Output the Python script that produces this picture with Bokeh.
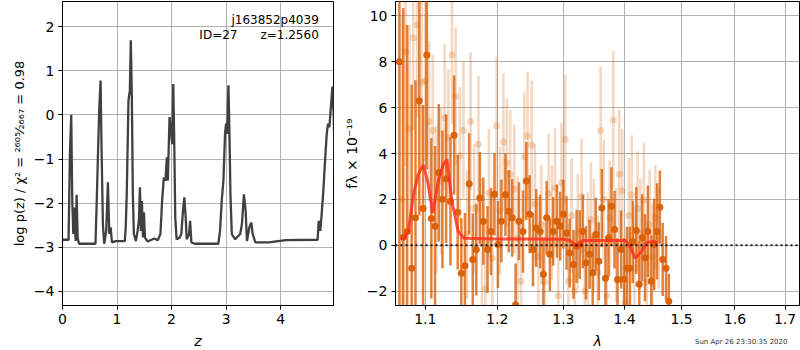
from bokeh.plotting import figure
from bokeh.layouts import row
from bokeh.models import Range1d, FixedTicker, Label, Span, PrintfTickFormatter
from bokeh.embed import file_html
from bokeh.resources import INLINE

# ---------------- left panel: log p(z) ----------------
z_grid = [0.0, 0.111, 0.136, 0.160, 0.179, 0.198, 0.216, 0.241, 0.259, 0.278, 0.302,
          0.605, 0.630, 0.654, 0.673, 0.698, 0.716, 0.741, 0.765, 0.802, 0.833, 0.858,
          0.883, 0.907, 0.975, 1.142, 1.160, 1.179, 1.210, 1.235, 1.253, 1.272, 1.290,
          1.309, 1.346, 1.377, 1.401, 1.420, 1.438, 1.457, 1.475, 1.494, 1.512, 1.562,
          1.685, 1.747, 1.796, 1.827, 1.858, 1.889, 1.914, 1.932, 1.963, 1.988, 2.012,
          2.031, 2.049, 2.068, 2.093, 2.148, 2.179, 2.210, 2.235, 2.259, 2.278, 2.321,
          2.340, 2.364, 2.426, 2.858, 2.889, 2.920, 2.951, 2.981, 3.000, 3.019, 3.043,
          3.062, 3.080, 3.105, 3.167, 3.259, 3.290, 3.327, 3.358, 3.383, 3.426, 3.463,
          3.488, 3.537, 3.784, 4.093, 4.679, 4.698, 4.728, 4.753, 4.784, 4.815, 4.846,
          4.870, 4.895, 4.926, 4.951, 4.975, 4.994, 5.012]
log_pz = [-2.83, -2.83, -0.89, 0.00, -1.95, -2.70, -2.10, -2.86, -1.81, -2.78, -2.92,
          -2.92, -1.87, -0.73, 0.10, 0.78, -0.73, -2.48, -2.92, -2.63, -1.53, -2.70,
          -2.55, -2.89, -2.86, -2.86, -2.55, -1.76, 0.33, 0.55, 1.69, 0.40, -1.80,
          -2.70, -2.86, -2.63, -2.40, -1.64, -2.63, -1.95, -2.78, -2.21, -2.78, -2.87,
          -2.80, -2.84, -2.70, -1.95, -1.42, -1.49, -0.96, -1.49, -0.05, -0.36, -0.66,
          0.70, -0.58, -2.33, -2.82, -2.78, -2.70, -2.17, -1.87, -2.33, -2.82, -2.70,
          -2.40, -2.89, -2.92, -2.92, -2.63, -1.95, -1.49, -0.43, -0.20, -0.43, 0.67,
          -0.43, -1.80, -2.70, -2.82, -2.70, -2.48, -1.80, -2.17, -2.86, -2.55, -2.44,
          -2.70, -2.89, -2.89, -2.84, -2.83, -2.40, -2.63, -2.25, -1.72, -1.04, -0.43,
          -0.20, -0.28, 0.25, 0.64, -0.05, -1.34, -2.33]
z_ticks = [0, 1, 2, 3, 4]
logp_ticks = [-4, -3, -2, -1, 0, 1, 2]
root_name = "j163852p4039"
obj_id = "ID=27"
z_best = "z=1.2560"
ylabel_left = "log p(z) / χ² = ²⁶⁰⁵⁄₂₆₆₇ = 0.98"

# ---------------- right panel: spectrum ----------------
wave_a = [1.066, 1.071, 1.076, 1.082, 1.087, 1.092, 1.097, 1.102, 1.108, 1.113,
          1.118, 1.123, 1.128, 1.134, 1.139, 1.144, 1.149, 1.154, 1.160, 1.165,
          1.170, 1.175, 1.180, 1.186, 1.191, 1.196, 1.201, 1.206, 1.212, 1.217,
          1.222, 1.227, 1.232, 1.238, 1.243, 1.248, 1.253, 1.258, 1.264, 1.269,
          1.274, 1.279, 1.284, 1.290, 1.295, 1.300, 1.305, 1.310, 1.316, 1.321,
          1.326, 1.331, 1.336, 1.342, 1.347, 1.352, 1.357, 1.362, 1.368, 1.373,
          1.378, 1.383, 1.388, 1.394, 1.399, 1.404, 1.409, 1.414, 1.420, 1.425,
          1.430, 1.435, 1.440, 1.446, 1.451, 1.456, 1.461, 1.466, 1.472, 1.477]
flux_a = [8.0, 0.35, 0.6, -1.0, 1.2, 6.3, 1.6, 8.3, 1.17, 0.83,
          3.16, 2.0, 2.9, 1.92, 4.8, 1.44, -1.22, -0.9, 2.68, -0.62,
          -0.19, 2.06, 1.05, -0.19, 0.6, 2.22, 0.03, 1.05, 2.2, 1.48,
          1.2, -2.6, 1.05, 0.6, 2.8, 1.35, -0.19, 0.75, 0.6, -1.27,
          1.2, -0.4, 0.6, 1.05, 0.83, 1.35, 0.53, -0.34, -0.84, -0.05,
          0.03, 0.6, -0.77, -0.4, -1.2, 0.47, -0.7, 1.62, -1.44, 0.32,
          1.7, 0.68, -1.5, -0.19, -1.49, -1.0, -1.0, 0.15, 0.64, -1.7,
          0.32, -0.55, 0.6, -1.57, 0.03, 0.6, 1.66, -0.62, -1.0, -2.45]
err_a = [11.0, 10.0, 9.0, 8.0, 6.0, 5.0, 4.5, 5.0, 3.5, 3.5,
         3.0, 3.0, 2.8, 2.8, 2.6, 2.5, 2.4, 2.3, 2.2, 2.0,
         2.0, 2.0, 1.9, 1.9, 1.9, 1.8, 1.9, 1.8, 1.8, 1.8,
         1.7, 1.8, 1.7, 1.8, 1.7, 1.7, 1.6, 1.7, 1.6, 1.6,
         1.6, 1.6, 1.5, 1.6, 1.5, 1.5, 1.6, 1.5, 1.5, 1.6,
         1.5, 1.6, 1.6, 1.5, 1.6, 1.6, 1.7, 1.7, 1.6, 1.7,
         1.7, 1.7, 1.8, 1.7, 1.8, 1.8, 1.8, 1.8, 1.9, 1.9,
         1.9, 1.9, 2.0, 2.0, 2.0, 2.1, 1.6, 1.6, 1.4, 1.2]

wave_b = [1.069, 1.074, 1.079, 1.084, 1.089, 1.095, 1.100, 1.105, 1.110, 1.115,
          1.121, 1.126, 1.131, 1.136, 1.141, 1.147, 1.152, 1.157, 1.162, 1.167,
          1.173, 1.178, 1.183, 1.188, 1.193, 1.199, 1.204, 1.209, 1.214, 1.219,
          1.225, 1.230, 1.235, 1.240, 1.245, 1.251, 1.256, 1.261, 1.266, 1.271,
          1.277, 1.282, 1.287, 1.292, 1.297, 1.303, 1.308, 1.313, 1.318, 1.323,
          1.329, 1.334, 1.339, 1.344, 1.349, 1.355, 1.360, 1.365, 1.370, 1.375,
          1.381, 1.386, 1.391, 1.396, 1.401, 1.407, 1.412, 1.417, 1.422, 1.427,
          1.433, 1.438, 1.443, 1.448, 1.453, 1.459]
flux_b = [2.0, 8.44, 5.1, 9.05, 9.6, 7.1, 7.17, 5.4, 5.0, 2.0,
          2.8, 5.56, 4.7, 8.3, 6.5, 3.9, 5.0, 0.47, 5.4, 1.6,
          4.4, 0.1, -1.9, 2.28, -0.57, 5.2, 1.5, 4.5, 3.6, 3.1,
          2.45, 0.3, -1.57, 3.85, 4.77, 4.37, 1.8, -0.5, 0.9, -1.6,
          2.24, 1.0, 2.5, -2.2, 2.72, 4.62, -1.57, 1.3, -2.0, 0.6,
          2.14, -2.0, -0.2, 1.12, 0.4, -1.2, 5.0, 2.0, -2.2, 1.2,
          5.46, 0.0, 3.1, 2.37, -2.5, 1.3, 2.2, -1.0, 1.6, 0.5,
          1.97, -1.6, 0.9, -0.5, 1.2, 0.3]
err_b = [8.0, 5.0, 4.5, 4.0, 4.0, 3.8, 3.5, 3.5, 3.3, 3.2,
         3.2, 3.2, 3.0, 3.0, 3.0, 3.0, 3.0, 2.8, 3.0, 2.8,
         3.0, 2.8, 2.8, 2.8, 2.8, 3.0, 2.8, 3.0, 2.8, 2.8,
         2.8, 2.7, 2.7, 2.8, 2.8, 2.8, 2.6, 2.6, 2.6, 2.6,
         2.6, 2.5, 2.6, 2.5, 2.6, 2.8, 2.5, 2.5, 2.5, 2.5,
         2.5, 2.5, 2.5, 2.5, 2.5, 2.5, 2.8, 2.6, 2.5, 2.5,
         3.0, 2.5, 2.8, 2.7, 2.5, 2.5, 2.6, 2.5, 2.5, 2.4,
         2.5, 2.4, 2.4, 2.3, 2.3, 2.2]

wave_model = [1.068, 1.0713, 1.0778, 1.0842, 1.0908, 1.0974, 1.1030, 1.1100, 1.1173,
              1.1240, 1.1290, 1.1360, 1.1445, 1.1526, 1.2000, 1.2500, 1.3013, 1.3110,
              1.3217, 1.3311, 1.3700, 1.4016, 1.4100, 1.4181, 1.4280, 1.4372, 1.4494,
              1.4560]
flux_model = [0.3, 0.3, 0.6, 2.2, 3.1, 3.5, 2.8, 1.4, 2.8,
              3.5, 3.75, 1.92, 0.6, 0.3, 0.27, 0.27, 0.26, 0.2,
              -0.05, 0.2, 0.2, 0.2, -0.1, -0.56, -0.3, 0.1, 0.17,
              0.1]
wave_ticks = [1.1, 1.2, 1.3, 1.4, 1.5, 1.6, 1.7]
flux_ticks = [-2, 0, 2, 4, 6, 8, 10]
timestamp = "Sun Apr 26 23:30:35 2020"

FONT = "DejaVu Sans"
ORANGE = "#d9620a"
GRID = "#b0b0b0"


def style(p):
    p.outline_line_color = "black"
    p.outline_line_width = 1
    p.outline_line_alpha = 1
    p.background_fill_color = "white"
    p.border_fill_color = "white"
    p.grid.grid_line_color = GRID
    p.grid.grid_line_width = 1
    for ax in p.axis:
        ax.axis_line_color = "black"
        ax.major_tick_line_color = "black"
        ax.major_tick_out = 4
        ax.major_tick_in = 0
        ax.minor_tick_line_color = None
        ax.major_label_text_font = FONT
        ax.major_label_text_font_size = "14px"
        ax.major_label_text_color = "black"
        ax.axis_label_text_font = FONT
        ax.axis_label_text_font_size = "14px"
        ax.axis_label_text_font_style = "normal"
        ax.axis_label_text_color = "black"
        ax.major_label_standoff = 4
        ax.axis_label_standoff = 4


def xlabel(p, x, text):
    # x-axis title drawn in its own panel below the tick labels
    p.add_layout(Label(x=x, y=2, y_units="screen", text=text, text_align="center",
                       text_baseline="middle", text_font=FONT, text_font_size="14px",
                       text_font_style="italic", text_color="black"), "below")


H = 350
W1 = 340
# ---- left figure ----
p1 = figure(width=W1, height=H, output_backend="svg", toolbar_location=None,
            x_range=Range1d(0, 4.97), y_range=Range1d(-4.32, 2.57),
            min_border_left=62, min_border_right=7, min_border_top=1, min_border_bottom=40)
style(p1)
xt1 = FixedTicker(ticks=z_ticks)
yt1 = FixedTicker(ticks=logp_ticks)
p1.xaxis.ticker = xt1
p1.xgrid.ticker = xt1
p1.yaxis.ticker = yt1
p1.ygrid.ticker = yt1
p1.yaxis.major_label_overrides = {t: ("−%d" % -t if t < 0 else str(t)) for t in logp_ticks}
p1.yaxis.axis_label = ylabel_left
p1.yaxis.axis_label_text_font_size = "13px"
xlabel(p1, 2.485, "z")
p1.line(z_grid, log_pz, line_color="#404040", line_width=2.3)
p1.add_layout(Label(x=4.70, y=2.16, text=root_name, text_align="right", text_baseline="middle",
                    text_font=FONT, text_font_size="12px", text_color="black"))
p1.add_layout(Label(x=2.51, y=1.80, text=obj_id, text_align="left", text_baseline="middle",
                    text_font=FONT, text_font_size="12px", text_color="black"))
p1.add_layout(Label(x=4.70, y=1.80, text=z_best, text_align="right", text_baseline="middle",
                    text_font=FONT, text_font_size="12px", text_color="black"))

# ---- right figure ----
p2 = figure(width=800 - W1, height=H, output_backend="svg", toolbar_location=None,
            x_axis_type="log", x_range=Range1d(1.061, 1.73), y_range=Range1d(-2.63, 10.63),
            min_border_left=52, min_border_right=1, min_border_top=1, min_border_bottom=40)
style(p2)
xt = FixedTicker(ticks=wave_ticks)
p2.xaxis.ticker = xt
p2.xgrid.ticker = xt
p2.xaxis.formatter = PrintfTickFormatter(format="%.1f")
yt = FixedTicker(ticks=flux_ticks)
p2.yaxis.ticker = yt
p2.ygrid.ticker = yt
p2.yaxis.major_label_overrides = {t: ("−%d" % -t if t < 0 else str(t)) for t in flux_ticks}
p2.yaxis.axis_label = "fλ × 10⁻¹⁹"
xlabel(p2, 1.355, "λ")

lo_b = [f - e for f, e in zip(flux_b, err_b)]
hi_b = [f + e for f, e in zip(flux_b, err_b)]
p2.segment(wave_b, lo_b, wave_b, hi_b, line_color=ORANGE, line_alpha=0.25, line_width=2.6)
p2.scatter(wave_b, flux_b, size=7, fill_color=ORANGE, fill_alpha=0.25, line_color=None)

lo_a = [f - e for f, e in zip(flux_a, err_a)]
hi_a = [f + e for f, e in zip(flux_a, err_a)]
p2.segment(wave_a, lo_a, wave_a, hi_a, line_color=ORANGE, line_alpha=0.8, line_width=2.5)
p2.scatter(wave_a, flux_a, size=7, fill_color=ORANGE, fill_alpha=1.0, line_color=None)

p2.line(wave_model, flux_model, line_color="#ff2a1a", line_alpha=0.8, line_width=3)
p2.add_layout(Span(location=0, dimension="width", line_color="black", line_alpha=0.85,
                   line_width=2, line_dash="2 3"))
p2.add_layout(Label(x=1.705, y=9, y_units="screen", text=timestamp,
                    text_align="right", text_baseline="middle", text_font=FONT,
                    text_font_size="7px", text_color="#333333"), "below")

layout = row(p1, p2)
open("out.html", "w").write(file_html(layout, INLINE))
